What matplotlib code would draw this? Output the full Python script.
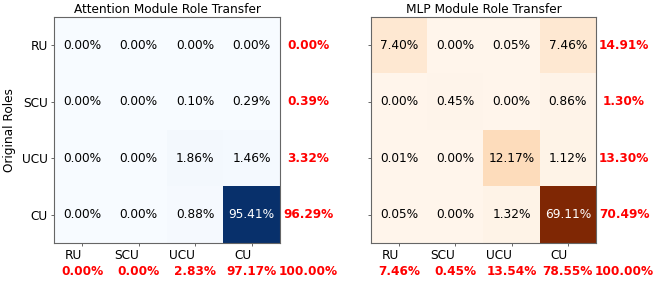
import numpy as np
import matplotlib.pyplot as plt

roles = ["RU", "SCU", "UCU", "CU"]

# transfer percentages, rows = original role, cols = new role
attn_values = [
    [0.00, 0.00, 0.00, 0.00],
    [0.00, 0.00, 0.10, 0.29],
    [0.00, 0.00, 1.86, 1.46],
    [0.00, 0.00, 0.88, 95.41],
]
mlp_values = [
    [7.40, 0.00, 0.05, 7.46],
    [0.00, 0.45, 0.00, 0.86],
    [0.01, 0.00, 12.17, 1.12],
    [0.05, 0.00, 1.32, 69.11],
]
attn_row_sums = [0.00, 0.39, 3.32, 96.29]
attn_col_sums = [0.00, 0.00, 2.83, 97.17]
mlp_row_sums = [14.91, 1.30, 13.30, 70.49]
mlp_col_sums = [7.46, 0.45, 13.54, 78.55]
total = 100.00

FS = 8.7


def draw_matrix(ax, values, row_sums, col_sums, cmap, title, show_ylabels):
    mat = np.array(values)
    ax.imshow(mat, cmap=cmap, vmin=0, vmax=mat.max(), aspect="auto")
    n = len(roles)
    thresh = mat.max() / 2
    for i in range(n):
        for j in range(n):
            color = "white" if mat[i, j] > thresh else "black"
            ax.text(j, i, f"{mat[i, j]:.2f}%", ha="center", va="center",
                    color=color, fontsize=FS)
    # row sums on the right, column sums below
    for i in range(n):
        ax.text(n, i, f"{row_sums[i]:.2f}%", ha="center", va="center",
                color="red", fontweight="bold", fontsize=FS, clip_on=False)
    for j in range(n):
        ax.text(j, n, f"{col_sums[j]:.2f}%", ha="center", va="center",
                color="red", fontweight="bold", fontsize=FS, clip_on=False)
    ax.text(n, n, f"{total:.2f}%", ha="center", va="center",
            color="red", fontweight="bold", fontsize=FS, clip_on=False)

    ax.set_xticks(range(n))
    ax.set_xticklabels(roles, ha="right", fontsize=FS)
    ax.set_yticks(range(n))
    if show_ylabels:
        ax.set_yticklabels(roles, fontsize=FS)
        ax.set_ylabel("Original Roles", fontsize=FS)
    else:
        ax.set_yticklabels([])
    ax.set_title(title, fontsize=FS, pad=3)
    ax.tick_params(length=2.5, width=0.6, pad=2, color="0.3")
    for sp in ax.spines.values():
        sp.set_color("0.4")
        sp.set_linewidth(0.8)


fig = plt.figure(figsize=(6.58, 2.82), dpi=100)
ax1 = fig.add_axes([54 / 658, 1 - 243 / 282, 226 / 658, 226 / 282])
ax2 = fig.add_axes([371 / 658, 1 - 243 / 282, 225 / 658, 226 / 282])

draw_matrix(ax1, attn_values, attn_row_sums, attn_col_sums, "Blues",
            "Attention Module Role Transfer", True)
draw_matrix(ax2, mlp_values, mlp_row_sums, mlp_col_sums, "Oranges",
            "MLP Module Role Transfer", False)

fig.savefig("out.png", dpi=100)
